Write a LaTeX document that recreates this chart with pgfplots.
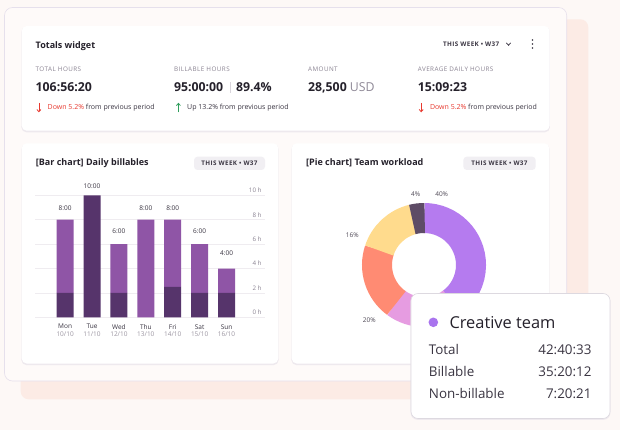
\documentclass[border=0pt]{standalone}
\usepackage{fontspec}
\setmainfont{Open Sans}
\usepackage{pgfplots}
\pgfplotsset{compat=1.18}
\usetikzlibrary{arrows.meta}

\definecolor{bg}{HTML}{FDF8F6}
\definecolor{peach}{HTML}{FCEBE5}
\definecolor{outer}{HTML}{FEFAF9}
\definecolor{outerline}{HTML}{E6E0EC}
\definecolor{shadowc}{HTML}{EEE9EE}
\definecolor{ink}{HTML}{25212B}
\definecolor{ink2}{HTML}{3A3542}
\definecolor{lab}{HTML}{8A8392}
\definecolor{dategray}{HTML}{9C96A2}
\definecolor{gridc}{HTML}{EFECF0}
\definecolor{badge}{HTML}{F1EFF3}
\definecolor{barL}{HTML}{8F55A6}
\definecolor{barD}{HTML}{56346B}
\definecolor{pPurple}{HTML}{B57BEF}
\definecolor{pPink}{HTML}{E69CE1}
\definecolor{pSalmon}{HTML}{FF8B73}
\definecolor{pYellow}{HTML}{FFDB8D}
\definecolor{pDark}{HTML}{5E4C66}
\definecolor{tipline}{HTML}{DDD9E0}
\definecolor{dot}{HTML}{A974EE}
\definecolor{downred}{HTML}{E8392F}
\definecolor{upgreen}{HTML}{2E9E5B}
\definecolor{usd}{HTML}{8E8896}
\definecolor{sepc}{HTML}{D9D5DC}
\definecolor{pielab}{HTML}{4F4956}

\newcommand\fs[1]{\fontsize{#1}{#1}\selectfont}
% one donut slice: start angle, percent, colour (a little overlap hides seams)
\newcommand\slice[3]{\draw[#3, line width=30pt] (axis cs:0,0) ++(#1:47pt)
  arc[start angle=#1, delta angle=-3.6*#2-0.8, radius=47pt];}

\begin{document}
\begin{tikzpicture}
\tikzset{t/.style={inner sep=0pt, anchor=base west, text=ink},
         tr/.style={inner sep=0pt, anchor=base east, text=ink},
         badgefont/.style={font={\fs{6.3}\bfseries\addfontfeatures{LetterSpace=6}}, text=ink2}}
\begin{scope}[x=1pt,y=-1pt]
  \fill[bg] (0,0) rectangle (620,430);
  \fill[peach, rounded corners=8pt] (20.7,19.3) rectangle (588.3,399.3);
  \filldraw[fill=outer, draw=outerline, line width=0.6pt, rounded corners=8pt] (4.5,7.5) rectangle (566.7,381);
  \foreach \a/\b/\c/\d in {21.7/26/549.6/130.7, 21.7/143.3/278.3/363.5, 291.7/143.3/549.3/363.5} {
    \fill[shadowc, rounded corners=5pt] (\a-0.3,\b+0.8) rectangle (\c+0.3,\d+1.6);
    \fill[white, rounded corners=5pt] (\a,\b) rectangle (\c,\d);
  }
  % totals widget
  \node[t, font=\fs{9}\bfseries] at (35.5,48.2) {Totals widget};
  \node[t, badgefont] at (443,46.5) {THIS WEEK • W37};
  \draw[ink2, line width=0.8pt] (506.3,42.9) -- (508.5,45.2) -- (510.7,42.9);
  \foreach \yy in {40,44,48} \fill[ink2] (532.4,\yy) circle (0.9);
  \foreach \xx/\txt in {35.5/TOTAL HOURS, 173.9/BILLABLE HOURS, 307.9/AMOUNT, 417.7/AVERAGE DAILY HOURS}
    \node[t, font={\fs{6.3}\addfontfeatures{LetterSpace=7}}, text=lab] at (\xx,71.6) {\txt};
  \node[t, font=\fs{12.3}\bfseries] at (35.5,91.4) {106:56:20};
  \node[t, font=\fs{12.3}\bfseries] at (173.9,91.4) {95:00:00};
  \draw[sepc, line width=0.7pt] (230.4,82.3) -- (230.4,93.3);
  \node[t, font=\fs{12.3}\bfseries] at (235.9,91.4) {89.4\%};
  \node[t, font=\fs{12.3}\bfseries] at (307.9,91.4) {28,500 \textcolor{usd}{\mdseries USD}};
  \node[t, font=\fs{12.3}\bfseries] at (417.7,91.4) {15:09:23};
  \draw[downred, line width=0.8pt, -{Straight Barb[length=2.2pt,width=4pt]}] (38.9,102.8) -- (38.9,112.3);
  \node[t, font=\fs{7}, text=ink2] at (47.5,109.8) {\textcolor{downred}{Down 5.2\%} from previous period};
  \draw[upgreen, line width=0.8pt, -{Straight Barb[length=2.2pt,width=4pt]}] (178.4,112.3) -- (178.4,102.8);
  \node[t, font=\fs{7}, text=ink2] at (187,109.8) {Up 13.2\% from previous period};
  \draw[downred, line width=0.8pt, -{Straight Barb[length=2.2pt,width=4pt]}] (421.2,102.8) -- (421.2,112.3);
  \node[t, font=\fs{7}, text=ink2] at (429.8,109.8) {\textcolor{downred}{Down 5.2\%} from previous period};
  % card titles and badges
  \node[t, font=\fs{9}\bfseries] at (35.7,165.9) {[Bar chart] Daily billables};
  \node[t, font=\fs{9}\bfseries] at (306,165.9) {[Pie chart] Team workload};
  \foreach \a/\c in {194/265, 463.3/535.7} {
    \fill[badge, rounded corners=3.5pt] (\a,156.7) rectangle (\c,170);
    \node[inner sep=0pt, badgefont, anchor=base] at ({(\a+\c)/2},165.5) {THIS WEEK • W37};
  }
\end{scope}

% bar chart
\begin{axis}[
    at={(35pt,-317.3pt)}, anchor=south west,
    scale only axis, width=230pt, height=122pt,
    xmin=-1.12, xmax=7.43, ymin=0, ymax=10,
    ybar stacked, bar width=17pt,
    axis line style={draw=none}, major tick length=0pt,
    ymajorgrids, grid style={line width=0.5pt, gridc},
    ytick={0,2,...,10}, yticklabels={0 h,2 h,4 h,6 h,8 h,10 h},
    yticklabel pos=right,
    yticklabel style={anchor=east, yshift=5pt, font=\fs{6.2}, text=lab},
    xtick={0,...,6},
    xticklabels={{Mon\\\textcolor{dategray}{10/10}},{Tue\\\textcolor{dategray}{11/10}},
      {Wed\\\textcolor{dategray}{12/10}},{Thu\\\textcolor{dategray}{13/10}},
      {Fri\\\textcolor{dategray}{14/10}},{Sat\\\textcolor{dategray}{15/10}},
      {Sun\\\textcolor{dategray}{16/10}}},
    xticklabel style={align=center, font=\fontsize{6.5}{7.7}\selectfont, text=ink2, yshift=-3.5pt},
    clip=false,
  ]
  \addplot[fill=barD, draw=none] coordinates {(0,2) (1,10) (2,2) (3,0) (4,2.5) (5,2) (6,2)};
  \addplot[fill=barL, draw=none] coordinates {(0,6) (1,0) (2,4) (3,8) (4,5.5) (5,4) (6,2)};
\end{axis}

% bar value labels
\begin{axis}[
    at={(35pt,-317.3pt)}, anchor=south west,
    scale only axis, width=230pt, height=122pt,
    xmin=-1.12, xmax=7.43, ymin=0, ymax=10,
    hide axis, clip=false,
    nodes near coords, point meta=explicit symbolic,
    every node near coord/.append style={anchor=center, font=\fs{6.5}, text=ink2},
  ]
  \addplot[draw=none] coordinates {(0,8.93)[8:00] (1,10.76)[10:00] (2,7.02)[6:00]
    (3,8.93)[8:00] (4,8.93)[8:00] (5,7.02)[6:00] (6,5.25)[4:00]};
\end{axis}

% donut chart
\begin{axis}[
    at={(424pt,-265pt)}, anchor=center,
    scale only axis, width=124pt, height=124pt,
    xmin=-1, xmax=1, ymin=-1, ymax=1,
    hide axis, clip=false,
    nodes near coords, point meta=explicit symbolic,
    every node near coord/.append style={anchor=center, font=\fs{6.5}, text=pielab},
  ]
  \slice{90}{40}{pPurple}
  \slice{-54}{20}{pPink}
  \slice{234}{20}{pSalmon}
  \slice{162}{16}{pYellow}
  \slice{104.4}{4}{pDark}
  \addplot[draw=none] coordinates {(0.285,1.14)[40\%] (-0.134,1.14)[4\%]
    (-1.156,0.473)[16\%] (-0.882,-0.892)[20\%]};
\end{axis}

% tooltip
\begin{scope}[x=1pt,y=-1pt]
  \fill[shadowc, rounded corners=7pt] (410.6,294.3) rectangle (610.4,419.8);
  \filldraw[fill=white, draw=tipline, line width=0.6pt, rounded corners=7pt] (411,293.5) rectangle (610,418.5);
  \fill[dot] (433.3,322.3) circle (4.8);
  \node[t, font=\fs{16.4}, text=ink] at (449.3,328.1) {Creative team};
  \node[t, font=\fs{13.4}, text=ink2] at (428.7,354.8) {Total};
  \node[t, font=\fs{13.4}, text=ink2] at (428.7,376.5) {Billable};
  \node[t, font=\fs{13.4}, text=ink2] at (428.7,398.8) {Non-billable};
  \node[tr, font=\fs{13.4}, text=ink2] at (591.7,354.8) {42:40:33};
  \node[tr, font=\fs{13.4}, text=ink2] at (591.7,376.5) {35:20:12};
  \node[tr, font=\fs{13.4}, text=ink2] at (591.7,398.8) {7:20:21};
\end{scope}
\end{tikzpicture}
\end{document}
